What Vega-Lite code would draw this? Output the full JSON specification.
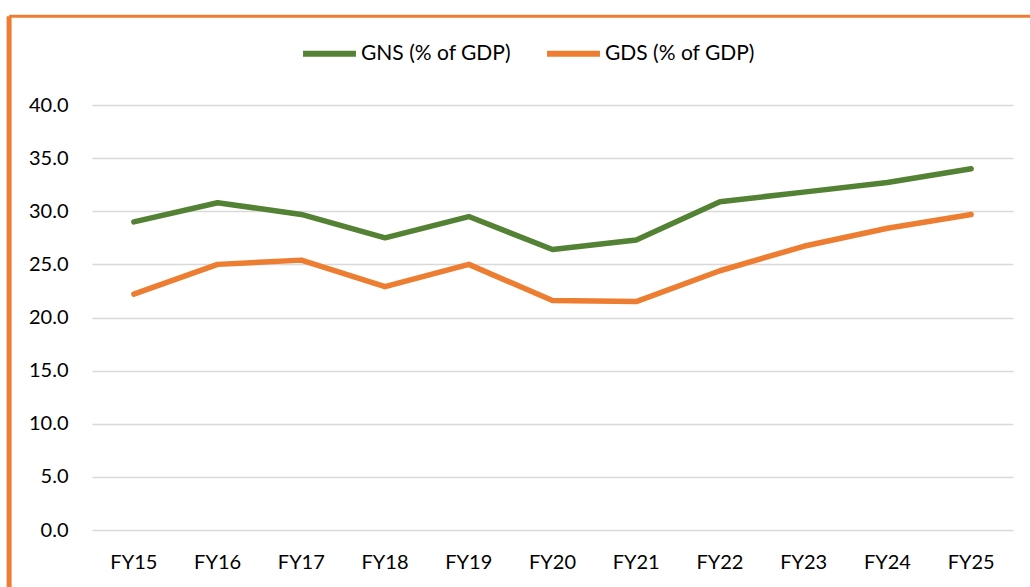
{
  "$schema": "https://vega.github.io/schema/vega-lite/v6.json",
  "autosize": "none",
  "width": 921,
  "height": 425,
  "padding": {"left": 92, "top": 105, "right": 17, "bottom": 57},
  "background": "white",
  "config": {
    "view": {"stroke": null},
    "font": "Lato",
    "axis": {"labelFont": "Lato", "labelFontSize": 20, "labelColor": "#000000", "ticks": false, "domain": false}
  },
  "datasets": {
    "series": [
      {"year": "FY15", "series": "GNS (% of GDP)", "value": 29.0},
      {"year": "FY16", "series": "GNS (% of GDP)", "value": 30.8},
      {"year": "FY17", "series": "GNS (% of GDP)", "value": 29.7},
      {"year": "FY18", "series": "GNS (% of GDP)", "value": 27.5},
      {"year": "FY19", "series": "GNS (% of GDP)", "value": 29.5},
      {"year": "FY20", "series": "GNS (% of GDP)", "value": 26.4},
      {"year": "FY21", "series": "GNS (% of GDP)", "value": 27.3},
      {"year": "FY22", "series": "GNS (% of GDP)", "value": 30.9},
      {"year": "FY23", "series": "GNS (% of GDP)", "value": 31.8},
      {"year": "FY24", "series": "GNS (% of GDP)", "value": 32.7},
      {"year": "FY25", "series": "GNS (% of GDP)", "value": 34.0},
      {"year": "FY15", "series": "GDS (% of GDP)", "value": 22.2},
      {"year": "FY16", "series": "GDS (% of GDP)", "value": 25.0},
      {"year": "FY17", "series": "GDS (% of GDP)", "value": 25.4},
      {"year": "FY18", "series": "GDS (% of GDP)", "value": 22.9},
      {"year": "FY19", "series": "GDS (% of GDP)", "value": 25.0},
      {"year": "FY20", "series": "GDS (% of GDP)", "value": 21.6},
      {"year": "FY21", "series": "GDS (% of GDP)", "value": 21.5},
      {"year": "FY22", "series": "GDS (% of GDP)", "value": 24.4},
      {"year": "FY23", "series": "GDS (% of GDP)", "value": 26.7},
      {"year": "FY24", "series": "GDS (% of GDP)", "value": 28.4},
      {"year": "FY25", "series": "GDS (% of GDP)", "value": 29.7}
    ]
  },
  "layer": [
    {
      "data": {"name": "series"},
      "mark": {"type": "line", "strokeWidth": 5.5, "strokeCap": "round", "strokeJoin": "round"},
      "encoding": {
        "x": {
          "field": "year", "type": "nominal", "bandPosition": 0.5,
          "scale": {"type": "band", "paddingInner": 0, "paddingOuter": 0},
          "axis": {"title": null, "labelAngle": 0, "labelPadding": 22, "grid": false}
        },
        "y": {
          "field": "value", "type": "quantitative",
          "scale": {"domain": [0, 40]},
          "axis": {"title": null, "values": [0, 5, 10, 15, 20, 25, 30, 35, 40], "format": ".1f", "labelPadding": 24, "grid": true, "gridColor": "#D9D9D9", "gridWidth": 1.5}
        },
        "color": {
          "field": "series", "type": "nominal",
          "scale": {"domain": ["GNS (% of GDP)", "GDS (% of GDP)"], "range": ["#548235", "#ED7D31"]},
          "legend": {
            "title": null, "orient": "none", "direction": "horizontal",
            "legendX": 208, "legendY": -81,
            "symbolType": "stroke", "symbolSize": 2800, "symbolStrokeWidth": 6,
            "labelFont": "Lato", "labelFontSize": 21, "labelColor": "#000000",
            "labelOffset": 2, "columnPadding": 24, "padding": 0
          }
        },
        "sort": {"field": "series"}
      }
    },
    {
      "data": {"values": [{"edge": "frame"}]},
      "mark": {"type": "rule", "color": "#ED7D31", "strokeWidth": 3, "clip": false},
      "encoding": {
        "x": {"datum": "FY15", "bandPosition": -0.99},
        "x2": {"datum": "FY25", "bandPosition": 1.5},
        "y": {"datum": 48.35}
      }
    },
    {
      "data": {"values": [{"edge": "frame"}]},
      "mark": {"type": "rule", "color": "#ED7D31", "strokeWidth": 5, "clip": false},
      "encoding": {
        "x": {"datum": "FY15", "bandPosition": -0.99},
        "y": {"datum": 48.35},
        "y2": {"datum": -8}
      }
    }
  ]
}
